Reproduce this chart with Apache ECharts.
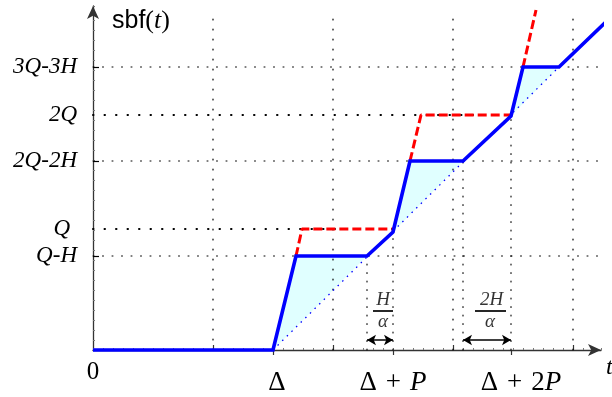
<!DOCTYPE html>
<html><head><meta charset="utf-8">
<script src="https://cdn.jsdelivr.net/npm/echarts@6/dist/echarts.min.js"></script>
<style>html,body{margin:0;padding:0;background:#fff}#c{width:612px;height:397px}</style>
</head><body><div id="c"></div>
<script>
// ---- data (x in units of the time axis, y in units of supply) ----
const xMax = 50.8, yMax = 34.4;
const blueX = [0, 18, 20.3, 27.4, 30, 31.7, 37, 41.8, 43, 46.6, 51.9];
const blueY = [0, 0, 9.4, 9.4, 11.8, 18.9, 18.9, 23.4, 28.3, 28.3, 33.4];
const redAX = [20.3, 20.9, 30],   redAY = [9.4, 12.1, 12.1];
const redBX = [31.7, 32.8, 41.8], redBY = [18.9, 23.5, 23.5];
const redCX = [43, 44.3],         redCY = [28.3, 34.0];
const diagX = [18, 46.6], diagY = [0, 28.3];
const triX = [[18, 20.3, 27.4], [30, 31.7, 37], [41.8, 43, 46.6]];
const triY = [[0, 9.4, 9.4], [11.8, 18.9, 18.9], [23.4, 28.3, 28.3]];
const gridX = [12, 24, 36, 48], gridTop = 34.0;
const fineY = [9.4, 18.9, 28.3], fineEnd = 51.9;
const coarseY = [12.1, 23.5], coarseEnd = [30, 41.8];
const shortX = [27.4, 30, 37, 41.8], shortTop = [9.4, 12.1, 18.9, 23.5];
const yTickVals = [9.4, 12.1, 18.9, 23.5, 28.3];
const yTickLabels = ['Q-H', 'Q', '2Q-2H', '2Q', '3Q-3H'];
const yMajorTicks = [9.4, 18.9, 28.3];
const xTickVals = [18, 30, 41.8];
const xTickLabels = ['{d|Δ}', '{n|Δ}{o|+}{i|P}', '{s|}{n|Δ}{o|+}{n|2}{i|P}'];
const arrowSegs = [[27.4, 30], [37, 41.8]], arrowY = 1.0;
const barSegs = [[28.0, 30.0], [38.2, 41.3]], barY = 3.93;
const annX = [29.0, 29.0, 39.85, 39.7];
const annY = [5.0, 2.8, 5.0, 2.8];
const annText = ['H', 'α', '2H', 'α'];

const SERIF = '"Liberation Serif", "DejaVu Serif", serif';
const chart = echarts.init(document.getElementById('c'), null, {renderer: 'canvas'});

function seg(xs, ys, style, z) {
  return {type: 'line', data: xs.map((x, i) => [x, ys[i]]), symbol: 'none', showSymbol: false,
    lineStyle: style, clip: false, silent: true, z: z, animation: false};
}
const fineDot = {color: '#000', width: 1, type: [1, 8.5], cap: 'round'};
const coarseDot = {color: '#000', width: 2, type: [0.5, 11], cap: 'round'};
const gridDot = {color: '#000', width: 1.2, type: [1, 9], cap: 'round'};
const shortDot = {color: '#000', width: 1.1, type: [1, 7.5], cap: 'round'};

const series = [];
// fill triangles
series.push({
  type: 'custom', silent: true, z: 1, clip: false,
  data: triX.map((xs, i) => [xs[0], triY[i][0], xs[1], triY[i][1], xs[2], triY[i][2]]),
  encode: {x: [0, 2, 4], y: [1, 3, 5]},
  renderItem: (p, api) => ({
    type: 'polygon',
    shape: {points: [api.coord([api.value(0), api.value(1)]), api.coord([api.value(2), api.value(3)]), api.coord([api.value(4), api.value(5)])]},
    style: {fill: '#e0ffff'}
  })
});
gridX.forEach(x => series.push(seg([x, x], [0, gridTop], gridDot, 2)));
fineY.forEach(y => series.push(seg([0, fineEnd], [y, y], fineDot, 2)));
coarseY.forEach((y, i) => series.push(seg([0, coarseEnd[i]], [y, y], coarseDot, 2)));
shortX.forEach((x, i) => series.push(seg([x, x], [0, shortTop[i]], shortDot, 2)));
// blue dotted diagonal with arrows & fraction bars
const diag = seg(diagX, diagY, {color: '#0000ff', width: 1.3, type: [1.5, 5]}, 3);
diag.markLine = {
  silent: true, animation: false, symbol: ['arrow', 'arrow'], symbolSize: [8, 9],
  label: {show: false}, lineStyle: {color: '#000', width: 1.5, type: 'solid'},
  data: arrowSegs.map(s => [{coord: [s[0], arrowY]}, {coord: [s[1], arrowY]}])
};
series.push(diag);
const bars = seg([0], [0], {width: 0}, 3);
bars.markLine = {
  silent: true, animation: false, symbol: ['none', 'none'],
  label: {show: false}, lineStyle: {color: '#000', width: 1.7, type: 'solid'},
  data: barSegs.map(s => [{coord: [s[0], barY]}, {coord: [s[1], barY]}])
};
series.push(bars);
// red dashed
const redStyle = {color: '#ff0000', width: 3, type: [9, 4]};
series.push(seg(redAX, redAY, redStyle, 4));
series.push(seg(redBX, redBY, redStyle, 4));
series.push(seg(redCX, redCY, redStyle, 4));
// blue sbf
series.push(seg(blueX, blueY, {color: '#0000ff', width: 3.6, join: 'miter'}, 5));
// annotation text
series.push({
  type: 'scatter', silent: true, z: 6, clip: false, symbolSize: 1,
  itemStyle: {color: 'rgba(0,0,0,0)'},
  data: annX.map((x, i) => [x, annY[i]]),
  label: {show: true, position: 'inside', formatter: p => annText[p.dataIndex],
    fontFamily: SERIF, fontStyle: 'italic', fontSize: 19, color: '#000'}
});

const base = {type: 'value', min: 0, splitLine: {show: false}};
const xl = {fontFamily: SERIF, fontSize: 27, color: '#000'};
chart.setOption({
  animation: false,
  grid: {left: 93, right: 612 - 601, top: 6, bottom: 47, containLabel: false},
  xAxis: [
    Object.assign({}, base, {max: xMax, interval: 1, position: 'bottom',
      axisLine: {show: true, onZero: false, symbol: ['none', 'arrow'], symbolSize: [9, 13], lineStyle: {color: '#333', width: 1.3}},
      axisTick: {show: true, length: 2, inside: true, lineStyle: {color: '#777', width: 1}},
      axisLabel: {show: false}}),
    Object.assign({}, base, {max: xMax, position: 'bottom',
      axisLine: {show: false},
      axisTick: {show: true, customValues: xTickVals, length: 5, lineStyle: {color: '#333', width: 1.2}},
      axisLabel: {show: true, customValues: xTickVals, margin: 19,
        formatter: v => xTickLabels[xTickVals.indexOf(v)] || '',
        rich: {
          d: Object.assign({}, xl, {padding: [0, 0, 0, 8]}),
          n: xl,
          o: Object.assign({}, xl, {padding: [0, 9]}),
          i: Object.assign({}, xl, {fontStyle: 'italic'}),
          s: {width: 20}
        }}}),
    Object.assign({}, base, {max: xMax, position: 'bottom',
      axisLine: {show: false},
      axisTick: {show: true, customValues: gridX, inside: true, length: 5, lineStyle: {color: '#333', width: 1.2}},
      axisLabel: {show: true, customValues: [0], margin: 10, formatter: () => '0',
        fontFamily: SERIF, fontSize: 25, color: '#000'}})
  ],
  yAxis: [
    Object.assign({}, base, {max: yMax, interval: 1, position: 'left',
      axisLine: {show: true, onZero: false, symbol: ['none', 'arrow'], symbolSize: [9, 13], lineStyle: {color: '#333', width: 1.3}},
      axisTick: {show: true, length: 2, inside: true, lineStyle: {color: '#777', width: 1}},
      axisLabel: {show: false}}),
    Object.assign({}, base, {max: yMax, position: 'left',
      axisLine: {show: false},
      axisTick: {show: true, customValues: yMajorTicks, inside: true, length: 6, lineStyle: {color: '#000', width: 1.2}},
      axisLabel: {show: true, customValues: yTickVals, margin: 16,
        formatter: v => { const l = yTickLabels[yTickVals.indexOf(v)] || ''; return l === 'Q' ? '{q|Q}' : '{a|' + l + '}'; },
        rich: {
          a: {fontFamily: SERIF, fontSize: 23, fontStyle: 'italic', color: '#000'},
          q: {fontFamily: SERIF, fontSize: 23, fontStyle: 'italic', color: '#000', padding: [0, 7, 0, 0]}
        }}})
  ],
  series: series,
  graphic: [
    {type: 'text', x: 112, y: 8, z: 10, style: {text: '{s|sbf}{p|(}{i|t}{p|)}', rich: {
      s: {fontFamily: '"Liberation Sans", "DejaVu Sans", sans-serif', fontSize: 25, fill: '#000'},
      p: {fontFamily: SERIF, fontSize: 26, fill: '#000'},
      i: {fontFamily: SERIF, fontSize: 26, fontStyle: 'italic', fill: '#000'}}}},
    {type: 'text', x: 606, y: 356, z: 10, style: {text: 't', fontFamily: SERIF, fontStyle: 'italic', fontSize: 24, fill: '#000'}}
  ]
});
</script></body></html>
